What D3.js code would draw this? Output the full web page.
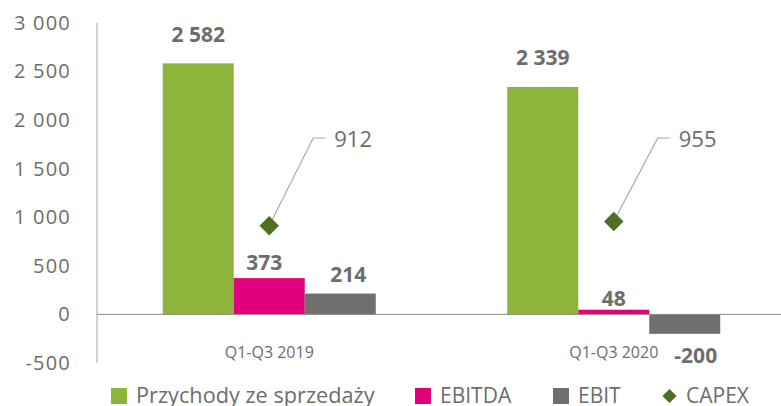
<!DOCTYPE html>
<html>
<head>
<meta charset="utf-8">
<script src="https://cdn.jsdelivr.net/npm/d3@7"></script>
<style>
  body { margin: 0; background: #fff; }
  svg { font-family: "Open Sans", sans-serif; }
</style>
</head>
<body>
<div id="chart"></div>
<script>
// data
const categories = ["Q1-Q3 2019", "Q1-Q3 2020"];
const seriesNames = ["Przychody ze sprzedaży", "EBITDA", "EBIT"];
const revenue = [2582, 2339];
const ebitda = [373, 48];
const ebit = [214, -200];
const capex = [912, 955];
const yTicks = [-500, 0, 500, 1000, 1500, 2000, 2500, 3000];

const colors = ["#8db53c", "#e2007a", "#6f6f6e"];
const capexColor = "#4f6f22";
const textColor = "#6d6d6d";

// label nudges (dx, dy from default spot), hand placed like the original
const labelNudge = [
    [[0, -21], [0, -22]],
    [[-5, -8], [0, -4]],
    [[8, -12], [11, 29]]
];

const fmt = d => d3.format(",")(d).replace(/,/g, " ").replace("\u2212", "-");

const width = 781, height = 406;
const svg = d3.select("#chart").append("svg")
    .attr("width", width)
    .attr("height", height);

const x0 = d3.scaleBand().domain(categories).range([97, 786]);
const x1 = d3.scaleBand().domain(seriesNames).range([0, 213]);
const y = d3.scaleLinear().domain([-500, 3000]).range([363, 22.7]);

const series = [revenue, ebitda, ebit];

// y tick labels
svg.append("g").selectAll("text")
    .data(yTicks)
    .join("text")
    .attr("x", 71)
    .attr("y", d => y(d))
    .attr("dy", "0.35em")
    .attr("text-anchor", "end")
    .attr("fill", textColor)
    .style("font-size", "20px")
    .style("letter-spacing", "1.2px")
    .text(fmt);

// y axis line
svg.append("line")
    .attr("x1", 97).attr("x2", 97)
    .attr("y1", y(3000)).attr("y2", y(-500))
    .attr("stroke", "#a6a6a6");

// bars
series.forEach((vals, si) => {
    let g = svg.append("g");
    g.selectAll("rect")
        .data(vals)
        .join("rect")
        .attr("x", (d, i) => x0(categories[i]) + (x0.bandwidth() - 213) / 2 + x1(seriesNames[si]))
        .attr("width", x1.bandwidth())
        .attr("y", d => y(Math.max(0, d)))
        .attr("height", d => Math.abs(y(d) - y(0)))
        .attr("fill", colors[si]);

    g.selectAll("text")
        .data(vals)
        .join("text")
        .attr("x", (d, i) => x0(categories[i]) + (x0.bandwidth() - 213) / 2 + x1(seriesNames[si]) + x1.bandwidth() / 2 + labelNudge[si][i][0])
        .attr("y", (d, i) => y(Math.max(0, d)) + (d < 0 ? y(d) - y(0) : 0) + labelNudge[si][i][1])
        .attr("text-anchor", "middle")
        .attr("fill", textColor)
        .style("font-size", "21px")
        .style("font-weight", "bold")
        .text(fmt);
});

// zero line
svg.append("line")
    .attr("x1", 97).attr("x2", width)
    .attr("y1", y(0)).attr("y2", y(0))
    .attr("stroke", "#8a8a8a");

// category labels
svg.append("g").selectAll("text")
    .data(categories)
    .join("text")
    .attr("x", d => x0(d) + x0.bandwidth() / 2)
    .attr("y", 358)
    .attr("text-anchor", "middle")
    .attr("fill", textColor)
    .style("font-size", "16px")
    .text(d => d);

// capex points with leader lines
const diamond = d3.symbol().type(d3.symbolSquare).size(190);
capex.forEach((v, i) => {
    let cx = x0(categories[i]) + x0.bandwidth() / 2;
    let cy = y(v);
    svg.append("polyline")
        .attr("points", [[cx, cy], [cx + 44, 138], [cx + 56, 138]].map(p => p.join(",")).join(" "))
        .attr("fill", "none")
        .attr("stroke", "#a6a6a6")
        .attr("stroke-width", 1.2);
    svg.append("path")
        .attr("d", diamond())
        .attr("transform", "translate(" + cx + "," + cy + ") rotate(45)")
        .attr("fill", capexColor);
    svg.append("text")
        .attr("x", cx + 65)
        .attr("y", 147)
        .attr("fill", textColor)
        .style("font-size", "22px")
        .text(v);
});

// legend
const legendItems = [
    { name: "Przychody ze sprzedaży", color: colors[0], x: 111 },
    { name: "EBITDA", color: colors[1], x: 415 },
    { name: "EBIT", color: colors[2], x: 553 },
    { name: "CAPEX", color: capexColor, x: 662, diamond: true }
];
legendItems.forEach(item => {
    if (item.diamond) {
        svg.append("path")
            .attr("d", d3.symbol().type(d3.symbolSquare).size(100)())
            .attr("transform", "translate(" + (item.x + 7.5) + ",396) rotate(45)")
            .attr("fill", item.color);
    } else {
        svg.append("rect")
            .attr("x", item.x).attr("y", 388)
            .attr("width", 16).attr("height", 16)
            .attr("fill", item.color);
    }
    svg.append("text")
        .attr("x", item.x + (item.diamond ? 24 : 25))
        .attr("y", 403)
        .attr("fill", textColor)
        .style("font-size", item.diamond ? "21px" : (item.x < 200 ? "21.7px" : "21px"))
        .text(item.name);
});
</script>
</body>
</html>
